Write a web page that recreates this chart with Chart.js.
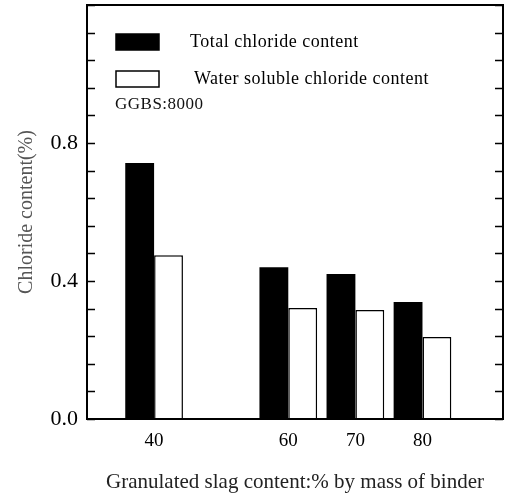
<!DOCTYPE html>
<html>
<head>
<meta charset="utf-8">
<script src="https://cdn.jsdelivr.net/npm/chart.js@4.4.0/dist/chart.umd.min.js"></script>
<style>
html, body { margin: 0; padding: 0; background: #fff; }
</style>
</head>
<body>
<canvas id="chart" width="509" height="495"></canvas>
<script>
// values
var slagContent = [40, 60, 70, 80];
var totalChloride = [0.742, 0.44, 0.42, 0.339];
var waterSolubleChloride = [0.475, 0.322, 0.316, 0.238];
var yLabelled = [0.0, 0.4, 0.8];
var seriesNames = ['Total chloride content', 'Water soluble chloride content'];
var note = 'GGBS:8000';

var serif = '"Liberation Serif", "DejaVu Serif", serif';

function points(vals) {
  return slagContent.map(function (x, i) { return { x: x, y: vals[i] }; });
}

// box, inward ticks and the in-plot legend
var framePlugin = {
  id: 'frame',
  afterDatasetsDraw: function (chart) {
    var ctx = chart.ctx, a = chart.chartArea, ys = chart.scales.y;
    ctx.save();
    ctx.strokeStyle = '#000';
    ctx.lineWidth = 2;
    ctx.strokeRect(a.left, a.top, a.right - a.left, a.bottom - a.top);
    ctx.lineWidth = 1.5;
    ys.ticks.forEach(function (t) {
      var py = Math.round(ys.getPixelForValue(t.value)) + 0.5;
      ctx.beginPath();
      ctx.moveTo(a.left, py); ctx.lineTo(a.left + 8, py);
      ctx.moveTo(a.right, py); ctx.lineTo(a.right - 8, py);
      ctx.stroke();
    });

    ctx.font = '18px ' + serif;
    ctx.letterSpacing = '0.5px';
    ctx.textBaseline = 'middle';
    chart.data.datasets.forEach(function (ds, i) {
      var by = a.top + 29 + i * 37;
      ctx.fillStyle = ds.backgroundColor;
      ctx.fillRect(a.left + 29, by, 43, 16);
      ctx.lineWidth = 1.5;
      ctx.strokeRect(a.left + 29, by, 43, 16);
      ctx.fillStyle = '#000';
      ctx.fillText(ds.label, a.left + 103 + i * 4, by + 8);
    });
    ctx.font = '17px ' + serif;
    ctx.fillStyle = '#111';
    ctx.fillText(note, a.left + 28, a.top + 100);
    ctx.restore();
  }
};

var ctx = document.getElementById('chart').getContext('2d');
var chart = new Chart(ctx, {
  type: 'bar',
  data: {
    datasets: [
      {
        label: seriesNames[0],
        data: points(totalChloride),
        backgroundColor: '#000',
        borderColor: '#000',
        borderWidth: 0
      },
      {
        label: seriesNames[1],
        data: points(waterSolubleChloride),
        backgroundColor: '#fff',
        borderColor: '#000',
        borderWidth: 1.5
      }
    ]
  },
  options: {
    responsive: false,
    animation: false,
    categoryPercentage: 0.86,
    barPercentage: 1.0,
    layout: { padding: { top: 5, right: 6, left: 0, bottom: 0 } },
    plugins: {
      legend: { display: false },
      tooltip: { enabled: false }
    },
    scales: {
      x: {
        type: 'linear',
        offset: false,
        min: 30,
        max: 92,
        afterBuildTicks: function (scale) {
          scale.ticks = slagContent.map(function (v) { return { value: v }; });
        },
        afterFit: function (scale) {
          scale.height = 76;
          scale.paddingLeft = 0;
          scale.paddingRight = 0;
        },
        grid: { display: false },
        border: { display: false },
        ticks: {
          color: '#000',
          padding: 3,
          maxRotation: 0,
          font: { family: serif, size: 19 },
          callback: function (v) { return String(v); }
        },
        title: {
          display: true,
          text: 'Granulated slag content:% by mass of binder',
          color: '#222',
          padding: { top: 0, bottom: 0 },
          font: { family: serif, size: 21 }
        }
      },
      y: {
        min: 0,
        max: 1.2,
        afterFit: function (scale) {
          scale.width = 87;
          scale.paddingTop = 0;
          scale.paddingBottom = 0;
        },
        grid: { display: false },
        border: { display: false },
        ticks: {
          stepSize: 0.08,
          color: '#000',
          padding: 1,
          autoSkip: false,
          font: { family: serif, size: 22 },
          callback: function (v) {
            for (var i = 0; i < yLabelled.length; i++) {
              if (Math.abs(v - yLabelled[i]) < 1e-6) return yLabelled[i].toFixed(1);
            }
            return '';
          }
        },
        title: {
          display: true,
          text: 'Chloride content(%)',
          color: '#555',
          padding: { top: 15, bottom: 0 },
          font: { family: serif, size: 20 }
        }
      }
    }
  },
  plugins: [framePlugin]
});
</script>
</body>
</html>
